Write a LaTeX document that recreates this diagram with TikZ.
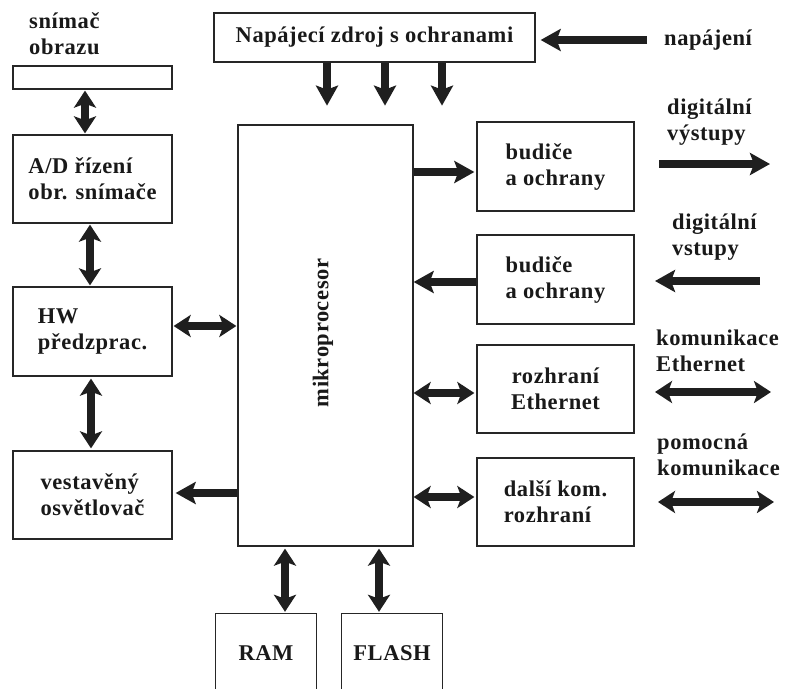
\documentclass[tikz,border=0pt]{standalone}
\usepackage{fontspec}
\setmainfont{Liberation Serif}[LetterSpace=2.5]
\usetikzlibrary{arrows.meta}
\begin{document}
\begin{tikzpicture}[x=1pt,y=-1pt,
  every node/.style={font=\fontsize{22.5}{26}\selectfont\bfseries, text=black!90},
  box/.style={draw=black!85, line width=1.3pt, inner sep=0pt, align=left},
  openbox/.style={draw=black!85, line width=1.3pt},
  lbl/.style={align=left, inner sep=0pt, anchor=west},
  fat/.style={draw=black!88, line width=7.5pt, -{Stealth[length=20pt,width=22pt,inset=4pt]}},
  fatboth/.style={draw=black!88, line width=7.5pt, {Stealth[length=17pt,width=22pt,inset=4pt]}-{Stealth[length=17pt,width=22pt,inset=4pt]}}
]
\clip (0,0) rectangle (789,688);
\fill[white] (0,0) rectangle (789,688);

% boxes
\node[box, align=center, minimum width=321pt, minimum height=49pt] (psu) at (374.5,37.5) {Napájecí zdroj s ochranami};
\node[box, minimum width=175pt, minimum height=421pt] (mcu) at (325.5,335.5) {};
\node[rotate=90, inner sep=0pt] (mcutext) at (323,333) {mikroprocesor};

\node[box, minimum width=159pt, minimum height=23pt] (sn) at (92.5,77.5) {};
\node[box, minimum width=159pt, minimum height=88pt] (ad) at (92.5,179) {A/D řízení\\obr. snímače};
\node[box, minimum width=159pt, minimum height=89pt] (hw) at (92.5,331.5) {HW\\předzprac.};
\node[box, minimum width=159pt, minimum height=88pt] (light) at (92.5,495) {vestavěný\\osvětlovač};

\node[box, minimum width=157pt, minimum height=89pt] (bud1) at (555.5,166.5) {budiče\\a ochrany};
\node[box, minimum width=157pt, minimum height=89pt] (bud2) at (555.5,279.5) {budiče\\a ochrany};
\node[box, align=center, minimum width=157pt, minimum height=88pt] (eth) at (555.5,389) {rozhraní\\Ethernet};
\node[box, minimum width=157pt, minimum height=88pt] (dal) at (555.5,502) {další kom.\\rozhraní};

\node[minimum width=100pt, minimum height=78pt, inner sep=0pt] (ram) at (266,653) {RAM};
\node[minimum width=100pt, minimum height=78pt, inner sep=0pt] (flash) at (392,653) {FLASH};
\draw[openbox] (ram.south west) -- (ram.north west) -- (ram.north east) -- (ram.south east);
\draw[openbox] (flash.south west) -- (flash.north west) -- (flash.north east) -- (flash.south east);

% outside labels
\node[lbl] (snlbl) at (29,34) {snímač\\obrazu};
\node[lbl] (napajeni) at (664,40) {napájení};
\node[lbl] (dout) at (667,122) {digitální\\výstupy};
\node[lbl] (din) at (672,237) {digitální\\vstupy};
\node[lbl] (ethext) at (656,351) {komunikace\\Ethernet};
\node[lbl] (pom) at (657,455) {pomocná\\komunikace};

% power arrows
\coordinate (np) at ([xshift=-17pt]napajeni.west);
\draw[fat, shorten >=5pt] (np) -- (np -| psu.east);
\draw[fat] ([xshift=-47.5pt]psu.south) -- ++(0,43);
\draw[fat] ([xshift=10.5pt]psu.south) -- ++(0,43);
\draw[fat] ([xshift=67.5pt]psu.south) -- ++(0,43);

% left column
\draw[fatboth, shorten <=1pt, shorten >=1pt] ([xshift=-7.5pt]sn.south) -- ([xshift=-7.5pt]ad.north);
\draw[fatboth, shorten <=1pt, shorten >=1pt] ([xshift=-2.5pt]ad.south) -- ([xshift=-2.5pt]hw.north);
\draw[fatboth, shorten <=2pt, shorten >=2pt] ([xshift=-1.5pt]hw.south) -- ([xshift=-1.5pt]light.north);

\coordinate (hwm) at ([yshift=5.5pt]hw.east);
\draw[fatboth, shorten <=1pt, shorten >=1pt] (hwm) -- (hwm -| mcu.west);
\coordinate (ltm) at ([yshift=2pt]light.east);
\draw[fat, shorten >=3pt] (ltm -| mcu.west) -- (ltm);

% right column
\coordinate (b1m) at ([yshift=-5.5pt]bud1.west);
\draw[fat, shorten >=2pt] (b1m -| mcu.east) -- (b1m);
\coordinate (b2m) at ([yshift=-2.5pt]bud2.west);
\draw[fat] (b2m) -- (b2m -| mcu.east);
\coordinate (em) at ([yshift=-4pt]eth.west);
\draw[fatboth, shorten >=2pt] (em -| mcu.east) -- (em);
\coordinate (dm) at ([yshift=5pt]dal.west);
\draw[fatboth, shorten >=2pt] (dm -| mcu.east) -- (dm);

% external arrows
\coordinate (do1) at (659,164); \coordinate (do2) at (770,164);
\draw[fat] (do1) -- (do2);
\coordinate (di1) at (760,281); \coordinate (di2) at (655,281);
\draw[fat] (di1) -- (di2);
\coordinate (ee1) at (655,392); \coordinate (ee2) at (771,392);
\draw[fatboth] (ee1) -- (ee2);
\coordinate (pe1) at (658,502); \coordinate (pe2) at (774,502);
\draw[fatboth] (pe1) -- (pe2);

% memory
\draw[fatboth, shorten <=2pt, shorten >=2pt] ([xshift=-40.5pt]mcu.south) -- ([xshift=19pt]ram.north);
\draw[fatboth, shorten <=2pt, shorten >=2pt] ([xshift=53.5pt]mcu.south) -- ([xshift=-13pt]flash.north);
\end{tikzpicture}
\end{document}
